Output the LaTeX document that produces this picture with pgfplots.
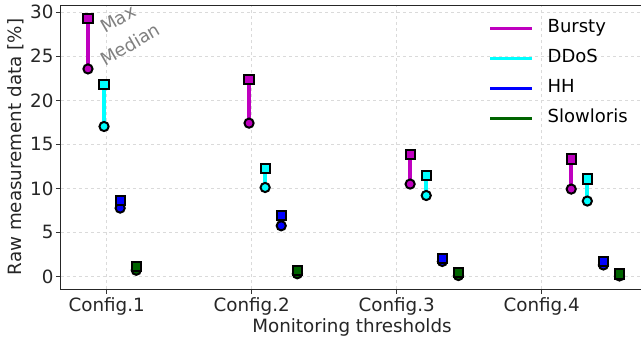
\documentclass[border=0pt]{standalone}
\usepackage{pgfplots}
\usepackage{pgfplotstable}
\pgfplotsset{compat=1.18}
\usepackage{fontspec}
\setmainfont{DejaVu Sans}
\definecolor{cbursty}{HTML}{BF00BF}
\definecolor{cddos}{HTML}{00FFFF}
\definecolor{chh}{HTML}{0000FF}
\definecolor{cslow}{HTML}{006400}
\definecolor{gridc}{HTML}{DADADA}
\newcommand{\fs}{\fontsize{18.3}{22}\selectfont}
\newcommand{\fl}{\fontsize{18}{21}\selectfont}

\pgfplotstableread{
x med max
-0.129 23.57 29.33
0.982 17.41 22.33
2.093 10.49 13.89
3.204 9.92 13.33
}\bursty
\pgfplotstableread{
x med max
-0.018 17.03 21.84
1.093 10.10 12.30
2.204 9.19 11.43
3.315 8.56 11.06
}\ddos
\pgfplotstableread{
x med max
0.093 7.76 8.63
1.204 5.75 6.89
2.315 1.70 2.00
3.426 1.30 1.67
}\hh
\pgfplotstableread{
x med max
0.204 0.70 1.13
1.315 0.30 0.65
2.426 0.10 0.40
3.537 0.05 0.27
}\slow

\pgfplotsset{
  vline/.style={forget plot, only marks, mark=none,
    error bars/.cd, y dir=plus, y explicit, error mark=none,
    error bar style={line width=3.8pt, draw=#1, solid}},
  medmark/.style={forget plot, only marks, mark=*, mark size=4.6pt,
    mark options={fill=#1, draw=black, line width=2pt, solid}},
  maxmark/.style={forget plot, only marks, mark=square*, mark size=4.6pt,
    mark options={fill=#1, draw=black, line width=2pt, solid}},
}

\begin{document}
\begin{tikzpicture}
\useasboundingbox (-61pt,-49pt) rectangle (580pt,289pt);
\begin{axis}[
  at={(0pt,0pt)}, anchor=south west,
  scale only axis, width=582pt, height=284pt,
  xmin=-0.315, xmax=3.699, ymin=-1.43, ymax=30.83,
  xtick={0,1,2,3}, xticklabels={Config.1,Config.2,Config.3,Config.4},
  ytick={0,5,10,15,20,25,30},
  /pgf/number format/assume math mode=true,
  tick label style={font=\fs, text=black!85},
  label style={font=\fs, text=black!85},
  xlabel={Monitoring thresholds},
  ylabel={Raw measurement data [\%]},
  xlabel style={yshift=4pt},
  ylabel style={yshift=-1pt},
  yticklabel style={xshift=1pt},
  tick align=outside, xtick pos=bottom, ytick pos=left,
  major tick length=5pt,
  every tick/.style={black!80, line width=0.8pt},
  axis line style={black!85, line width=1pt},
  grid=major, major grid style={gridc, dashed, line width=0.8pt},
  legend cell align=left,
  legend style={draw=none, fill=none, font=\fl, at={(0.7345,0.955)}, anchor=north west,
    inner sep=0pt, row sep=10pt, column sep=14pt,
    nodes={inner xsep=0pt, inner ysep=2pt, text height=12.5pt, text depth=3.6pt}},
  legend image code/.code={\draw[line width=3pt] (0pt,0pt) -- (42pt,0pt);},
]
\addlegendimage{cbursty}\addlegendentry{Bursty}
\addlegendimage{cddos}\addlegendentry{DDoS}
\addlegendimage{chh}\addlegendentry{HH}
\addlegendimage{cslow}\addlegendentry{Slowloris}

\addplot[vline=cbursty] table[x=x, y=med, y error expr=\thisrow{max}-\thisrow{med}] {\bursty};
\addplot[vline=cddos] table[x=x, y=med, y error expr=\thisrow{max}-\thisrow{med}] {\ddos};
\addplot[vline=chh] table[x=x, y=med, y error expr=\thisrow{max}-\thisrow{med}] {\hh};
\addplot[vline=cslow] table[x=x, y=med, y error expr=\thisrow{max}-\thisrow{med}] {\slow};

\addplot[medmark=cbursty] table[x=x, y=med] {\bursty};
\addplot[maxmark=cbursty] table[x=x, y=max] {\bursty};
\addplot[medmark=cddos] table[x=x, y=med] {\ddos};
\addplot[maxmark=cddos] table[x=x, y=max] {\ddos};
\addplot[medmark=chh] table[x=x, y=med] {\hh};
\addplot[maxmark=chh] table[x=x, y=max] {\hh};
\addplot[medmark=cslow] table[x=x, y=med] {\slow};
\addplot[maxmark=cslow] table[x=x, y=max] {\slow};

\node[rotate=30, anchor=base west, inner sep=0pt, text=gray, font=\fl] at (axis cs:-0.012,27.55) {Max};
\node[rotate=30, anchor=base west, inner sep=0pt, text=gray, font=\fl] at (axis cs:-0.012,23.85) {Median};
\end{axis}
\end{tikzpicture}
\end{document}
